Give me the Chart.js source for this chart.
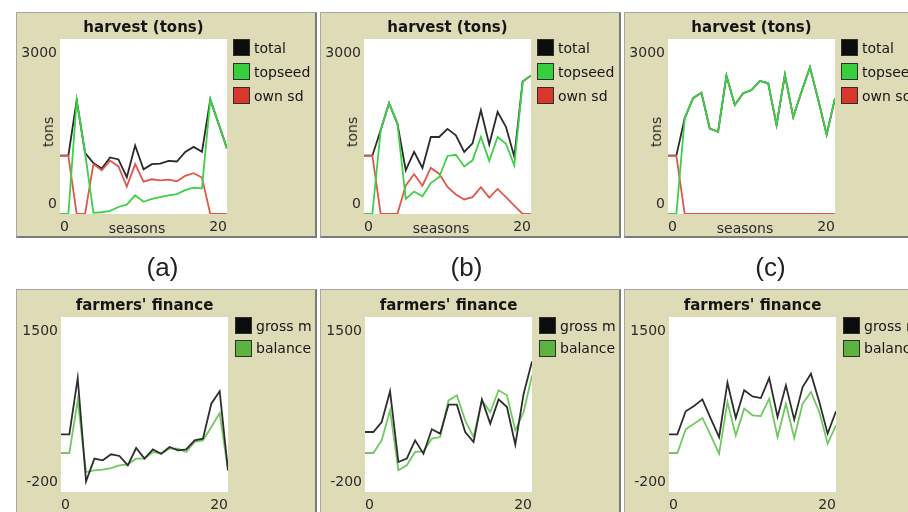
<!DOCTYPE html>
<html>
<head>
<meta charset="utf-8">
<script src="https://cdn.jsdelivr.net/npm/chart.js@4.4.1/dist/chart.umd.min.js"></script>
<style>
  html, body { margin: 0; padding: 0; background: #fff; }
  body { position: relative; width: 908px; height: 512px; overflow: hidden; font-family: "DejaVu Sans", sans-serif; }
  .panel { position: absolute; box-sizing: border-box; width: 301px; height: 226px; background: #dedcb7;
           border-top: 1px solid #a6a6a6; border-left: 1px solid #a6a6a6;
           border-right: 2px solid #7b7b7b; border-bottom: 2px solid #7b7b7b; }
  canvas { position: absolute; }
  .title { position: absolute; font-weight: bold; font-size: 15px; color: #151515; white-space: nowrap; transform: translate(-50%, -50%); }
  .axname { position: absolute; font-size: 14px; color: #2a2a2a; white-space: nowrap; transform: translate(-50%, -50%); }
  .axname.vert { transform: translate(-50%, -50%) rotate(-90deg); }
  .legend { position: absolute; font-size: 14px; color: #151515; white-space: nowrap; }
  .legend .row { position: absolute; left: 0; display: flex; align-items: center; }
  .legend .sw { box-sizing: border-box; width: 17px; height: 17px; border: 1px solid #2e2e2e; margin-right: 4px; }
  .caption { position: absolute; font-family: "Liberation Sans", Arial, sans-serif; font-size: 26px; color: #222; transform: translate(-50%, -50%); }
</style>
</head>
<body>
<script>
// seasons on the x axis
const seasons = [0, 1, 2, 3, 4, 5, 6, 7, 8, 9, 10, 11, 12, 13, 14, 15, 16, 17, 18, 19, 20];
const xTickLabels = [0, 20];
const harvestTicks = [0, 3000];
const financeTicks = [-200, 1500];
const captions = ['(a)', '(b)', '(c)'];

// harvest (tons) — scenario a
const harvestTotalA   = [1000, 1000, 1950, 1050, 875, 780, 970, 935, 630, 1175, 765, 855, 865, 910, 900, 1065, 1150, 1065, 1965, 1545, 1120];
const harvestTopseedA = [0, 0, 1950, 1050, 20, 30, 55, 120, 160, 320, 210, 260, 290, 320, 340, 410, 450, 440, 1965, 1545, 1120];
const harvestOwnA     = [1000, 1000, 0, 0, 855, 750, 915, 815, 470, 855, 555, 595, 575, 590, 560, 655, 700, 625, 0, 0, 0];

// harvest (tons) — scenario b
const harvestTotalB   = [1000, 1000, 1440, 1900, 1550, 750, 1065, 790, 1320, 1320, 1460, 1350, 1065, 1210, 1780, 1190, 1750, 1495, 980, 2270, 2375];
const harvestTopseedB = [0, 0, 1440, 1900, 1550, 260, 385, 305, 530, 630, 995, 1015, 815, 920, 1320, 910, 1320, 1205, 835, 2270, 2375];
const harvestOwnB     = [1000, 1000, 0, 0, 0, 490, 680, 485, 790, 690, 465, 335, 250, 290, 460, 280, 430, 290, 145, 0, 0];

// harvest (tons) — scenario c
const harvestTotalC   = [1000, 1000, 1640, 1985, 2080, 1465, 1410, 2370, 1870, 2070, 2125, 2280, 2240, 1525, 2385, 1665, 2100, 2515, 1955, 1360, 1985];
const harvestTopseedC = [0, 0, 1640, 1985, 2080, 1465, 1410, 2370, 1870, 2070, 2125, 2280, 2240, 1525, 2385, 1665, 2100, 2515, 1955, 1360, 1985];
const harvestOwnC     = [1000, 1000, 0, 0, 0, 0, 0, 0, 0, 0, 0, 0, 0, 0, 0, 0, 0, 0, 0, 0, 0];

// farmers' finance — gross margin and balance
const grossA   = [360, 360, 907, -96, 124, 108, 166, 150, 59, 227, 124, 214, 172, 237, 205, 214, 302, 318, 658, 778, 10];
const balanceA = [179, 179, 690, -6, 10, 17, 33, 59, 69, 124, 124, 189, 172, 221, 221, 189, 286, 302, 431, 567, 10];
const grossB   = [383, 383, 480, 778, 91, 124, 302, 172, 409, 367, 648, 648, 383, 286, 700, 464, 700, 626, 260, 755, 1069];
const balanceB = [179, 179, 302, 593, 10, 59, 189, 195, 318, 334, 690, 739, 496, 334, 690, 577, 788, 739, 399, 577, 933];
const grossC   = [360, 360, 584, 635, 700, 512, 334, 862, 519, 788, 729, 713, 907, 529, 836, 503, 820, 949, 674, 367, 584];
const balanceC = [179, 179, 409, 464, 519, 350, 172, 674, 350, 610, 545, 538, 707, 334, 658, 325, 658, 771, 577, 270, 448];

const PEN = {
  total:   { line: '#2a2a2a', swatch: '#0c0c0c' },
  topseed: { line: '#3fd048', swatch: '#36d03f' },
  own:     { line: '#e2574d', swatch: '#d9362c' },
  gross:   { line: '#2e2e2e', swatch: '#0c0c0c' },
  balance: { line: '#72c862', swatch: '#5ab43f' }
};

const harvestPens = (total, topseed, own) => [
  { label: 'total',   data: total,   pen: PEN.total,   order: 2 },
  { label: 'topseed', data: topseed, pen: PEN.topseed, order: 0 },
  { label: 'own sd',  data: own,     pen: PEN.own,     order: 1 }
];
const financePens = (gross, balance) => [
  { label: 'gross m', data: gross,   pen: PEN.gross,   order: 0 },
  { label: 'balance', data: balance, pen: PEN.balance, order: 1 }
];

const plots = [
  { col: 0, row: 0, title: 'harvest (tons)', pens: harvestPens(harvestTotalA, harvestTopseedA, harvestOwnA), yTicks: harvestTicks },
  { col: 1, row: 0, title: 'harvest (tons)', pens: harvestPens(harvestTotalB, harvestTopseedB, harvestOwnB), yTicks: harvestTicks },
  { col: 2, row: 0, title: 'harvest (tons)', pens: harvestPens(harvestTotalC, harvestTopseedC, harvestOwnC), yTicks: harvestTicks },
  { col: 0, row: 1, title: "farmers' finance", pens: financePens(grossA, balanceA), yTicks: financeTicks },
  { col: 1, row: 1, title: "farmers' finance", pens: financePens(grossB, balanceB), yTicks: financeTicks },
  { col: 2, row: 1, title: "farmers' finance", pens: financePens(grossC, balanceC), yTicks: financeTicks }
];

// Geometry of the two rows of plot widgets
const PANEL_W = 301, PANEL_H = 226, COL_STEP = 304, FIRST_LEFT = 16;
const ROWS = [
  { top: 12,  plotDx: 44, plotDy: 27, titleDy: 15, legendDx: 217, legendDy: 27, legendStep: 24.2, yName: 'tons', xName: 'seasons' },
  { top: 289, plotDx: 45, plotDy: 28, titleDy: 16, legendDx: 219, legendDy: 28, legendStep: 22.5, yName: null, xName: null }
];
const PLOT_W = 167, PLOT_H = 175;

// Min / max value labels placed just inside the plot edges on the left
const edgeLabels = {
  id: 'edgeLabels',
  afterDraw(chart, args, opts) {
    const { ctx, chartArea } = chart;
    const y = chart.scales.y;
    ctx.save();
    ctx.font = '14px "DejaVu Sans", sans-serif';
    ctx.fillStyle = '#2a2a2a';
    ctx.textAlign = 'right';
    ctx.textBaseline = 'middle';
    const x = chartArea.left - 3;
    ctx.fillText(String(opts.ticks[1]), x, y.getPixelForValue(opts.ticks[1]) + 14);
    ctx.fillText(String(opts.ticks[0]), x, y.getPixelForValue(opts.ticks[0]) - 10);
    ctx.restore();
  }
};

function el(tag, cls, css, text) {
  const e = document.createElement(tag);
  if (cls) e.className = cls;
  Object.assign(e.style, css || {});
  if (text != null) e.textContent = text;
  document.body.appendChild(e);
  return e;
}

plots.forEach(p => {
  const r = ROWS[p.row];
  const left = FIRST_LEFT + p.col * COL_STEP;
  const top = r.top;

  el('div', 'panel', { left: left + 'px', top: top + 'px' });

  const canvas = el('canvas', null, { left: left + 'px', top: top + 'px', width: PANEL_W + 'px', height: PANEL_H + 'px' });
  canvas.width = PANEL_W; canvas.height = PANEL_H;

  const xAxisH = PANEL_H - r.plotDy - PLOT_H;

  new Chart(canvas, {
    type: 'line',
    data: {
      datasets: p.pens.map(s => ({
        label: s.label,
        data: s.data.map((v, i) => ({ x: seasons[i], y: v })),
        borderColor: s.pen.line,
        backgroundColor: s.pen.swatch,
        borderWidth: 1.8,
        pointRadius: 0,
        tension: 0,
        fill: false,
        order: s.order
      }))
    },
    options: {
      responsive: false,
      animation: false,
      events: [],
      layout: { padding: { left: r.plotDx, top: r.plotDy, right: PANEL_W - r.plotDx - PLOT_W, bottom: 0 } },
      plugins: {
        legend: { display: false },
        tooltip: { enabled: false },
        title: { display: false },
        edgeLabels: { ticks: p.yTicks }
      },
      scales: {
        x: {
          type: 'linear',
          min: seasons[0],
          max: seasons[seasons.length - 1],
          grid: { display: false, drawTicks: false },
          border: { display: false },
          afterBuildTicks: sc => { sc.ticks = xTickLabels.map(v => ({ value: v })); },
          afterFit: sc => { sc.height = xAxisH; },
          ticks: {
            align: 'inner',
            autoSkip: false,
            maxRotation: 0,
            padding: 5,
            color: '#2a2a2a',
            font: { family: '"DejaVu Sans", sans-serif', size: 14 }
          }
        },
        y: {
          display: false,
          min: p.yTicks[0],
          max: p.yTicks[1]
        }
      }
    },
    plugins: [edgeLabels, {
      id: 'plotBackground',
      beforeDatasetsDraw(chart) {
        const { ctx, chartArea: a } = chart;
        ctx.save();
        ctx.fillStyle = '#ffffff';
        ctx.fillRect(a.left, a.top, a.right - a.left, a.bottom - a.top);
        ctx.restore();
      }
    }]
  });

  // title centred over the plot
  el('div', 'title', { left: (left + r.plotDx + PLOT_W / 2) + 'px', top: (top + r.titleDy) + 'px' }, p.title);

  // pen legend
  const lg = el('div', 'legend', { left: (left + r.legendDx) + 'px', top: (top + r.legendDy) + 'px' });
  p.pens.forEach((s, i) => {
    const row = document.createElement('div');
    row.className = 'row';
    row.style.top = (i * r.legendStep) + 'px';
    const sw = document.createElement('span');
    sw.className = 'sw';
    sw.style.background = s.pen.swatch;
    row.appendChild(sw);
    row.appendChild(document.createTextNode(s.label));
    lg.appendChild(row);
  });

  if (r.yName) el('div', 'axname vert', { left: (left + 32) + 'px', top: (top + r.plotDy + 93) + 'px' }, r.yName);
  if (r.xName) el('div', 'axname', { left: (left + 121) + 'px', top: (top + 216) + 'px' }, r.xName);
});

captions.forEach((c, i) => {
  el('div', 'caption', { left: (162.5 + i * COL_STEP) + 'px', top: '267px' }, c);
});
</script>
</body>
</html>
